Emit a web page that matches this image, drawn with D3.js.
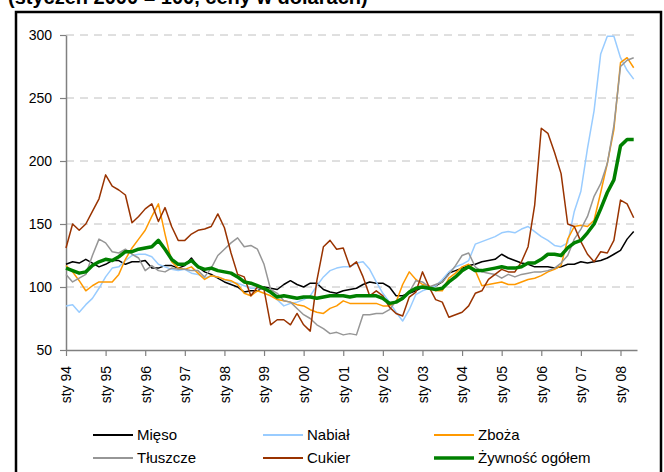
<!DOCTYPE html>
<html>
<head>
<meta charset="utf-8">
<script src="https://cdn.jsdelivr.net/npm/d3@7"></script>
<style>
  body { margin: 0; background: #fff; }
  text { font-family: "Liberation Sans", Arial, sans-serif; }
</style>
</head>
<body>
<svg id="chart" width="664" height="472"></svg>
<script>
// months counted from sty 1994, every second month up to maj 2008
var months = d3.range(0, 173, 2);
var yearLabels = ["sty 94", "sty 95", "sty 96", "sty 97", "sty 98", "sty 99", "sty 00", "sty 01",
                  "sty 02", "sty 03", "sty 04", "sty 05", "sty 06", "sty 07", "sty 08"];
var yTicks = [50, 100, 150, 200, 250, 300];

var mieso = [118,120,119,122,119,116,118,121,121,118,120,120,
             121,115,115,117,117,115,117,123,116,112,110,107,
             104,102,100,96,97,97,100,99,98,102,105,102,
             100,103,103,98,96,95,97,98,99,102,104,103,
             103,100,93,93,95,97,100,99,101,104,111,113,
             115,117,118,120,121,122,126,123,121,119,118,116,
             116,116,115,116,118,118,120,119,120,121,123,126,
             129,138,144];
var nabial = [85,86,80,86,91,99,108,115,116,121,125,126,
              126,124,118,116,114,113,114,111,110,107,109,108,
              106,104,103,101,99,99,98,95,90,85,87,88,
              90,93,101,108,113,115,116,116,119,120,114,104,
              95,88,80,73,82,94,97,99,101,106,112,116,
              118,121,134,136,138,140,143,144,143,146,148,144,
              140,137,133,132,135,160,176,210,240,285,299,299,
              282,272,265];
var zboza = [117,112,105,97,101,104,104,104,110,122,131,138,
             145,156,166,142,120,115,114,116,111,106,109,108,
             106,105,102,95,93,97,95,93,90,89,88,86,
             85,82,80,79,83,85,89,87,87,87,87,87,
             85,85,88,102,112,106,102,101,97,97,107,111,
             116,118,113,101,102,103,104,102,102,104,106,107,
             109,112,114,117,138,148,149,148,153,175,198,225,
             278,282,274];
var tluszcze = [110,104,107,110,125,138,135,128,127,130,126,123,
                113,117,113,112,115,114,114,113,113,108,115,125,
                130,135,139,132,133,130,118,98,95,89,88,83,
                78,75,70,67,63,64,62,63,62,78,78,79,
                79,82,89,90,96,105,104,100,102,104,110,117,
                125,127,116,112,111,110,107,110,108,110,111,112,
                112,113,115,119,125,138,146,156,172,182,198,228,
                275,280,282];
var cukier = [131,150,145,150,160,170,189,180,177,173,151,156,
              162,166,152,163,148,137,137,142,145,146,148,158,
              147,127,110,108,93,100,98,70,74,74,70,79,
              70,65,105,132,137,130,131,116,120,108,93,97,
              93,84,79,77,92,96,112,100,90,88,76,78,
              80,85,95,97,106,110,114,112,112,120,132,165,
              226,222,207,190,150,148,136,126,120,128,127,137,
              169,166,155];
var zywnosc = [115,113,111,112,117,120,122,121,124,128,128,130,
               131,132,137,130,122,118,118,121,116,114,115,113,
               112,111,108,104,103,101,99,96,92,93,92,91,
               92,92,91,92,93,93,93,92,93,93,93,93,
               91,87,88,91,96,99,100,99,98,99,104,108,
               113,116,113,113,114,115,116,115,115,116,119,119,
               122,126,126,125,131,135,137,143,150,162,175,185,
               212,217,217];

var series = [
  { name: "Mięso", values: mieso, color: "#000000", width: 1.5 },
  { name: "Nabiał", values: nabial, color: "#99ccff", width: 1.5 },
  { name: "Zboża", values: zboza, color: "#ff9900", width: 1.5 },
  { name: "Tłuszcze", values: tluszcze, color: "#969696", width: 1.5 },
  { name: "Cukier", values: cukier, color: "#993300", width: 1.5 },
  { name: "Żywność ogółem", values: zywnosc, color: "#008000", width: 3.5 }
];

var svg = d3.select("#chart");

// title, mostly cut off at the top of the picture
svg.append("text")
  .attr("x", 8).attr("y", 4)
  .style("font-size", "20px").style("font-weight", "bold")
  .text("(styczeń 2000 = 100, ceny w dolarach)");

svg.append("rect")
  .attr("x", 16).attr("y", 12)
  .attr("width", 645).attr("height", 480)
  .attr("fill", "none").attr("stroke", "#000").attr("stroke-width", 2.5);

var x = d3.scaleLinear().domain([0, 173]).range([66, 637]);
var y = d3.scaleLinear().domain([50, 300]).range([350, 35]);

// gridlines
svg.append("g").selectAll("line")
  .data(yTicks.slice(1))
  .enter().append("line")
  .attr("x1", x(0)).attr("x2", x(173))
  .attr("y1", function(d) { return y(d); })
  .attr("y2", function(d) { return y(d); })
  .attr("stroke", "#c0c0c0")
  .attr("stroke-dasharray", "8,6");

var yAxis = d3.axisLeft(y).tickValues(yTicks).tickSize(6).tickSizeOuter(0).tickPadding(8);
var gy = svg.append("g")
  .attr("transform", "translate(" + x(0) + ",0)")
  .call(yAxis);
gy.selectAll("text").style("font-size", "14px").attr("fill", "#000");

var xAxis = d3.axisBottom(x)
  .tickValues(d3.range(0, 169, 12))
  .tickFormat(function(d, i) { return yearLabels[i]; })
  .tickSize(6).tickSizeOuter(0);
var gx = svg.append("g")
  .attr("transform", "translate(0," + y(50) + ")")
  .call(xAxis);
gx.selectAll("text")
  .style("font-size", "14px").attr("fill", "#000")
  .attr("text-anchor", "end")
  .attr("dy", "0.35em")
  .attr("transform", "translate(0,6) rotate(-90)")
  .attr("x", 0).attr("y", 0);

[gx, gy].forEach(function(g) {
  g.select(".domain").attr("stroke", "#808080").attr("stroke-width", 1.5);
  g.selectAll(".tick line").attr("stroke", "#808080").attr("stroke-width", 1.2);
});
gx.selectAll(".tick text").attr("transform", "translate(0,16) rotate(-90)");

var line = d3.line()
  .x(function(d, i) { return x(months[i]); })
  .y(function(d) { return y(d); });

svg.append("g").selectAll("path")
  .data(series)
  .enter().append("path")
  .attr("d", function(s) { return line(s.values); })
  .attr("fill", "none")
  .attr("stroke", function(s) { return s.color; })
  .attr("stroke-width", function(s) { return s.width; })
  .attr("stroke-linejoin", "round");

// legend: 3 columns, 2 rows
var legend = svg.append("g").selectAll("g")
  .data(series)
  .enter().append("g")
  .attr("transform", function(d, i) {
    var cols = [93, 263, 434];
    return "translate(" + cols[i % 3] + "," + (i < 3 ? 435 : 458) + ")";
  });
legend.append("line")
  .attr("x1", 0).attr("x2", 40)
  .attr("stroke", function(d) { return d.color; })
  .attr("stroke-width", function(d) { return d.width === 1.5 ? 2 : 3.5; });
legend.append("text")
  .attr("x", 44).attr("dy", "0.35em")
  .style("font-size", "15px")
  .text(function(d) { return d.name; });
</script>
</body>
</html>
